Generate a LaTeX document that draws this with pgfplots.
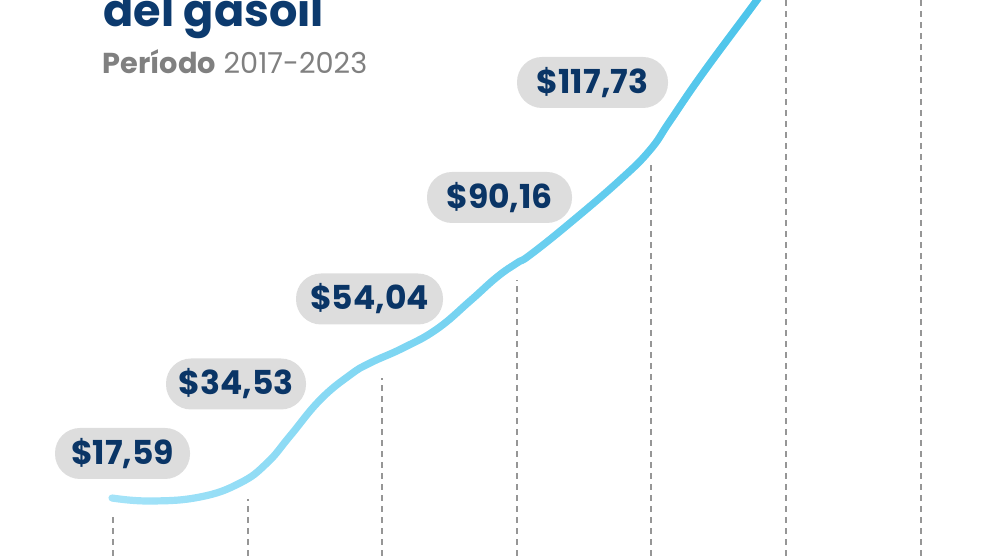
\documentclass[border=0pt]{standalone}
\usepackage{pgfplots}
\pgfplotsset{compat=1.18}
\usetikzlibrary{fadings}
\usepackage{fontspec}
\setmainfont{Poppins}
\definecolor{navy}{RGB}{10,53,102}
\definecolor{titlenavy}{RGB}{12,58,110}
\definecolor{boxgray}{RGB}{221,221,221}
\definecolor{subgray}{RGB}{128,128,128}
\definecolor{dashgray}{RGB}{150,150,150}
\definecolor{lineA}{RGB}{166,228,249}
\definecolor{lineD}{RGB}{72,195,234}
\tikzset{valbox/.style={fill=boxgray, rounded corners=12.5pt, minimum height=25.5pt,
    inner sep=0pt, text=navy, font=\fontsize{16.5}{16.5}\selectfont\bfseries}}
\begin{document}
\begin{tikzpicture}
\begin{axis}[
  at={(0,0)}, anchor=south west,
  scale only axis, width=495pt, height=278pt,
  xmin=0, xmax=990, ymin=0, ymax=556,
  hide axis, clip=true,
]
\coordinate (bl) at (axis cs:0,0);
\coordinate (tr) at (axis cs:990,556);
% dashed year guides (x position, top of dash)
\addplot[ycomb, no marks, draw=dashgray, line width=0.6pt, dash pattern=on 3pt off 2.5pt]
  coordinates {(113,43) (248,57) (382,178) (517,276) (651,394) (786,556) (921,556)};
% curve
\addplot[smooth, tension=0.75, no marks, draw=lineA, line width=3.6pt, line cap=round]
  coordinates {(112,58) (150,55) (200,59) (240,73) (267,93) (290,120) (320,156)
    (350,181) (370,193) (403,208) (437,227) (470,255) (497,279) (517,293) (530,301)
    (570,333) (620,376) (650,406) (670,435) (703,483) (757,556) (790,602)};
\addplot[smooth, tension=0.75, no marks, draw=lineD, line width=3.6pt, line cap=round, path fading=west]
  coordinates {(112,58) (150,55) (200,59) (240,73) (267,93) (290,120) (320,156)
    (350,181) (370,193) (403,208) (437,227) (470,255) (497,279) (517,293) (530,301)
    (570,333) (620,376) (650,406) (670,435) (703,483) (757,556) (790,602)};
% value labels
\node[valbox, minimum width=67.5pt] at (axis cs:122.5,102.5) {\$17,59};
\node[valbox, minimum width=70pt]   at (axis cs:236,172) {\$34,53};
\node[valbox, minimum width=73.5pt] at (axis cs:369.5,257) {\$54,04};
\node[valbox, minimum width=72.5pt] at (axis cs:499.5,358.5) {\$90,16};
\node[valbox, minimum width=75.5pt] at (axis cs:592.5,473.5) {\$117,73};
% titles
\node[anchor=base west, inner sep=0pt, text=titlenavy, font=\fontsize{22.3}{22.3}\selectfont\bfseries]
  at (axis cs:103,529) {del gasoil};
\node[anchor=base west, inner sep=0pt, text=subgray, font=\fontsize{14.4}{14.4}\selectfont]
  at (axis cs:102,482) {\textbf{Período} 2017-2023};
\end{axis}
\pgfresetboundingbox
\useasboundingbox (bl) rectangle (tr);
\end{tikzpicture}
\end{document}
